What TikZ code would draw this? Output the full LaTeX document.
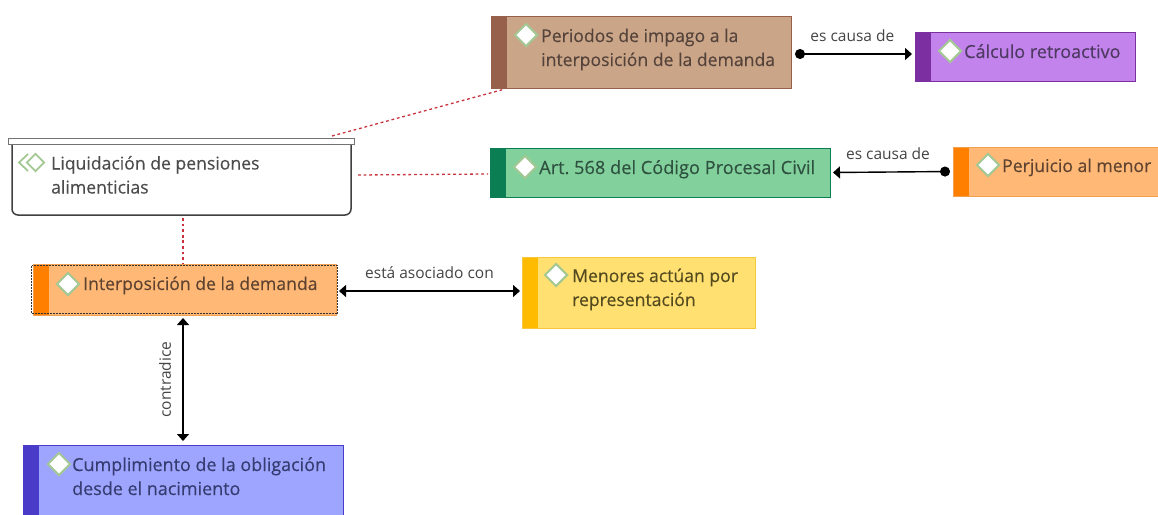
\documentclass[tikz,border=0pt]{standalone}
\usepackage{fontspec}
\setmainfont{Open Sans}
\frenchspacing
\usetikzlibrary{arrows.meta,shapes.geometric,calc}
\definecolor{edgetxt}{HTML}{444444}
\definecolor{gemgreen}{HTML}{A4C893}
\definecolor{reddot}{HTML}{C8323C}
\definecolor{brownF}{HTML}{CBA588}\definecolor{brownS}{HTML}{96604A}\definecolor{brownT}{HTML}{54433A}
\definecolor{purpF}{HTML}{C283EC}\definecolor{purpS}{HTML}{7C2FA0}\definecolor{purpT}{HTML}{4E3A62}
\definecolor{greenF}{HTML}{82D09C}\definecolor{greenS}{HTML}{0B7F53}\definecolor{greenT}{HTML}{2F5240}
\definecolor{orangeF}{HTML}{FFB876}\definecolor{orangeS}{HTML}{FF7F00}\definecolor{orangeB}{HTML}{F0A050}\definecolor{orangeT}{HTML}{5E4330}
\definecolor{yellowF}{HTML}{FFE070}\definecolor{yellowS}{HTML}{FFBB00}\definecolor{yellowB}{HTML}{F5C840}\definecolor{yellowT}{HTML}{544A20}
\definecolor{blueF}{HTML}{9DA5FF}\definecolor{blueS}{HTML}{4A3CC8}\definecolor{blueT}{HTML}{363C70}
\newcommand{\labfont}[1]{\fontsize{#1}{24}\selectfont\addfontfeature{FakeBold=0.25}}
\tikzset{
  x=1pt,y=-1pt,
  box/.style n args={5}{rectangle,draw=#5,line width=1pt,fill=#3,inner sep=0pt,outer sep=0pt,anchor=north west,
    minimum width=#1,minimum height=#2,
    path picture={\fill[#4] (path picture bounding box.north west) rectangle ([xshift=16pt]path picture bounding box.south west);}},
  gem/.style={diamond,draw=gemgreen,line width=2pt,fill=white,inner sep=0pt,minimum width=23pt,minimum height=23pt,aspect=1},
  lab/.style={anchor=base west,align=left,inner sep=0pt,font=\labfont{17.6}},
  edgelab/.style={inner sep=0pt,text=edgetxt,font=\fontsize{15.5}{18}\selectfont},
  rel/.style={line width=1.4pt,black},
  both/.style={rel,{Triangle[width=12pt,length=7pt]}-{Triangle[width=12pt,length=7pt]}},
  cause/.style={rel,{Circle[length=10pt]}-{Triangle[width=12pt,length=7pt]}},
  link/.style={reddot,line width=1.3pt,dash pattern=on 2.8pt off 2.8pt},
}
\begin{document}
\begin{tikzpicture}
\useasboundingbox (0,0) rectangle (1158,514);
\clip (0,0) rectangle (1158,514);
% group box
\draw[line width=1.5pt,draw=black!75,fill=white,rounded corners=6pt] (12,140) -- (12,215) -- (351,215) -- (351,140);
\node[rectangle,draw=black!55,fill=white,line width=1.2pt,inner sep=0pt,anchor=north west,minimum width=346pt,minimum height=6pt] (groupbar) at (8,138) {};
\coordinate (groupbottom) at (183,218);
\coordinate (groupright) at (358,175);
\coordinate (grouptop) at (332,136);
\draw[gemgreen,line width=1.8pt] (28,154) -- (19,162.5) -- (28,171);
\node[gem,minimum width=18pt,minimum height=18pt,line width=1.8pt] (groupgem) at (35.5,162.5) {};
\node[lab,text=black!70] (grouplab) at (51,193.5) {Liquidación de pensiones\\alimenticias};
% boxes
\node[box={300pt}{72pt}{brownF}{brownS}{brownS}] (periodos) at (491,16) {};
\node[box={220pt}{49pt}{purpF}{purpS}{purpS}] (calculo) at (915,32) {};
\node[box={340pt}{49pt}{greenF}{greenS}{greenS}] (art) at (490,148) {};
\node[box={212pt}{49pt}{orangeF}{orangeS}{orangeB}] (perjuicio) at (953,147) {};
\node[box={303pt}{51pt}{orangeF}{orangeS}{orangeB}] (interp) at (33,264) {};
\node[box={233pt}{71pt}{yellowF}{yellowS}{yellowB}] (menores) at (522,257) {};
\node[box={320pt}{75pt}{blueF}{blueS}{blueS}] (cumpl) at (23,445) {};
\draw[black!80,line width=.5pt,densely dotted] ([shift={(-1.5pt,-1.5pt)}]interp.north west) rectangle ([shift={(1.5pt,1.5pt)}]interp.south east);
% marks
\node[gem] (g1) at (526,35) {};
\node[gem] (g2) at (950,51) {};
\node[gem] (g3) at (525,167) {};
\node[gem] (g4) at (988,165) {};
\node[gem] (g5) at (68,284) {};
\node[gem] (g6) at (556,275) {};
\node[gem] (g7) at (59,464) {};
% labels
\node[lab,text=brownT] (l1) at (541,66) {Periodos de impago a la\\interposición de la demanda};
\node[lab,text=purpT,font=\labfont{18}] (l2) at (964,58) {Cálculo retroactivo};
\node[lab,text=greenT,font=\labfont{18.2}] (l3) at (539,174) {Art. 568 del Código Procesal Civil};
\node[lab,text=orangeT] (l4) at (1002,172) {Perjuicio al menor};
\node[lab,text=orangeT] (l5) at (83,290) {Interposición de la demanda};
\node[lab,text=yellowT] (l6) at (572,306) {Menores actúan por\\representación};
\node[lab,text=blueT,font=\labfont{17.95}] (l7) at (72,495) {Cumplimiento de la obligación\\desde el nacimiento};
% connectors
\draw[link] (grouptop) -- ([xshift=14pt,yshift=-1pt]periodos.south west);
\draw[link] (groupright) -- ([xshift=-2pt,yshift=-1.5pt]art.west);
\draw[link] (groupbottom) -- (groupbottom |- interp.north);
\draw[cause] ([xshift=4pt,yshift=-2pt]periodos.east) -- node[edgelab,above=12pt,pos=.49] (e1) {es causa de} ([xshift=-3pt,yshift=2.5pt]calculo.west);
\draw[cause] ([xshift=-3pt]perjuicio.west) -- node[edgelab,above=12pt,pos=.53] (e2) {es causa de} ([xshift=3pt]art.east);
\draw[both] ([xshift=3pt,yshift=-1.5pt]interp.east) -- node[edgelab,above=12pt,pos=.5] (e3) {está asociado con} ([xshift=-2pt,yshift=1.5pt]menores.west);
\draw[both] ([xshift=-1.5pt,yshift=-3pt]interp.south) -- node[edgelab,midway,rotate=90,xshift=0pt,yshift=18pt] (e4) {contradice} ([yshift=4pt]cumpl.north);
\end{tikzpicture}
\end{document}
